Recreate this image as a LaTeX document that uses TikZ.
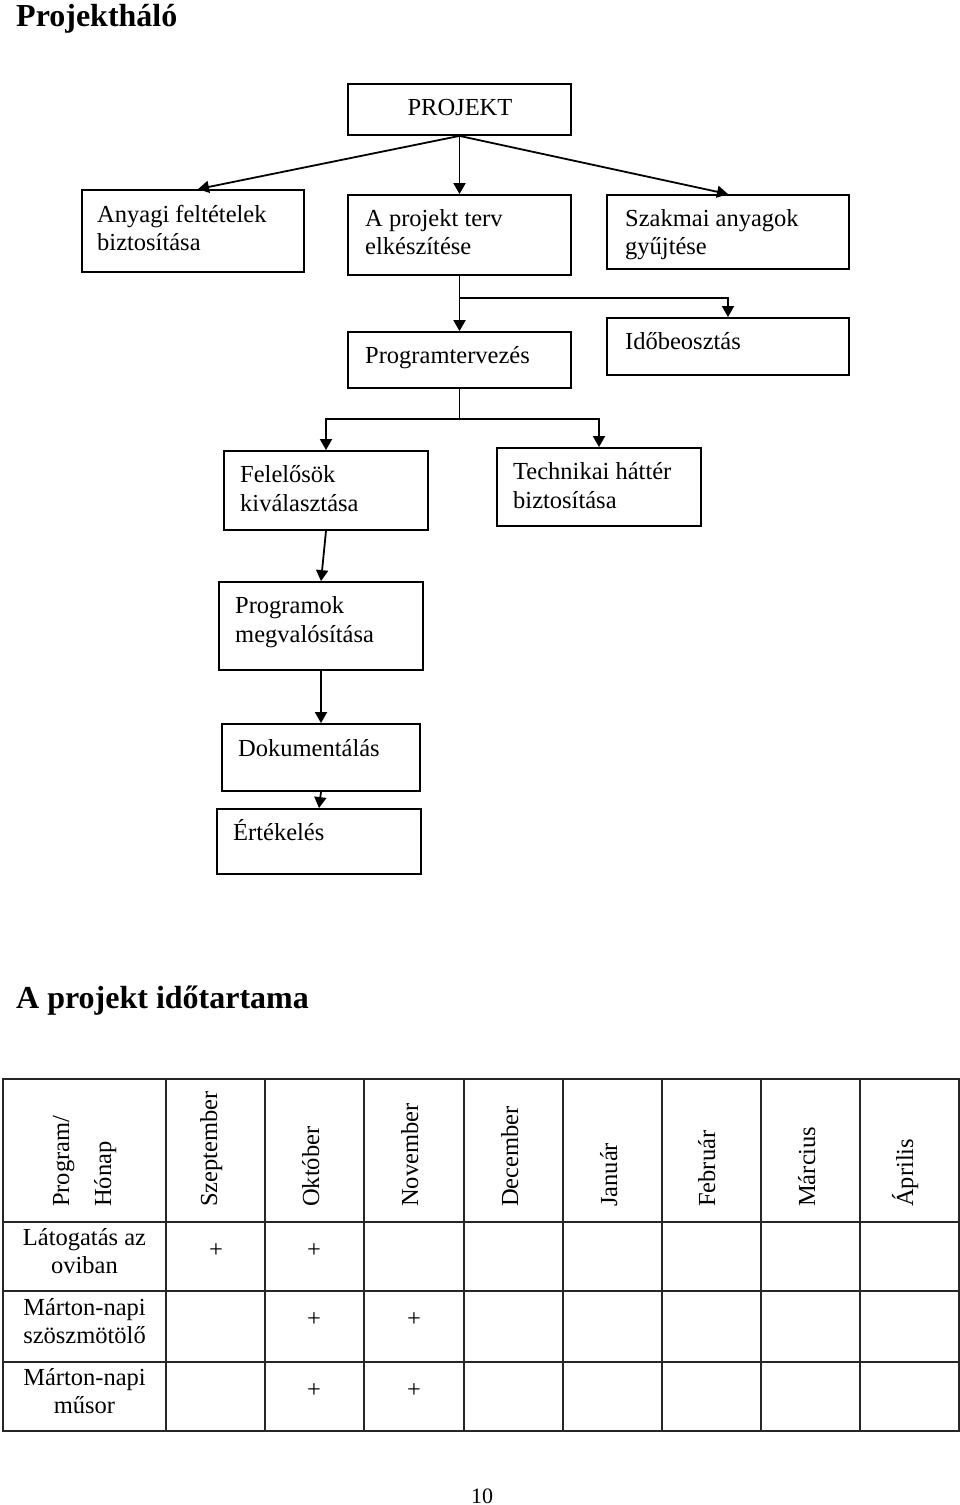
\documentclass[tikz,border=0pt]{standalone}
\usepackage{fontspec}
\setmainfont{Liberation Serif}
\usetikzlibrary{arrows.meta}
\begin{document}
\begin{tikzpicture}[x=1pt,y=-1pt,
  box/.style={draw, line width=1.8pt, inner sep=0pt},
  txt/.style={inner sep=0pt, anchor=base west, font=\fontsize{24.5}{28}\selectfont},
  ctxt/.style={inner sep=0pt, anchor=base, font=\fontsize{24.5}{28}\selectfont},
  arr/.style={line width=1.8pt, -{Triangle[length=11pt,width=12pt]}},
  ln/.style={line width=1.8pt},
  tab/.style={line width=1.4pt, draw=black!85},
  head/.style={inner sep=0pt, anchor=base west, rotate=90, font=\fontsize{24.5}{28}\selectfont},
  title/.style={inner sep=0pt, anchor=base west, font=\fontsize{32}{36}\selectfont\bfseries}]
\useasboundingbox (0,0) rectangle (960,1505);

% titles
\node[title] (t1) at (16,26) {Projektháló};
\node[title] (t2) at (16,1008) {A projekt időtartama};

% boxes
\node[box, minimum width=223pt, minimum height=51pt] (proj) at (459.5,109.5) {};
\node[box, minimum width=222pt, minimum height=82pt] (anyagi) at (193,231) {};
\node[box, minimum width=223pt, minimum height=80pt] (terv) at (459.5,235) {};
\node[box, minimum width=242pt, minimum height=74pt] (szak) at (728,232) {};
\node[box, minimum width=223pt, minimum height=56pt] (prog) at (459.5,360) {};
\node[box, minimum width=242pt, minimum height=57pt] (idob) at (728,346.5) {};
\node[box, minimum width=204pt, minimum height=79pt] (felel) at (326,490.5) {};
\node[box, minimum width=204pt, minimum height=78pt] (tech) at (599,487) {};
\node[box, minimum width=204pt, minimum height=88pt] (progr) at (321,626) {};
\node[box, minimum width=198pt, minimum height=67pt] (dok) at (321,757.5) {};
\node[box, minimum width=204pt, minimum height=65pt] (ert) at (319,841.5) {};

% box texts
\node[ctxt] (projt) at (460,115) {PROJEKT};
\node[txt] (anyagi1) at (97,222) {Anyagi feltételek};
\node[txt] (anyagi2) at (97,250) {biztosítása};
\node[txt] (terv1) at (365,226) {A projekt terv};
\node[txt] (terv2) at (365,254) {elkészítése};
\node[txt] (szak1) at (625,226) {Szakmai anyagok};
\node[txt] (szak2) at (625,254) {gyűjtése};
\node[txt] (progt) at (365,363) {Programtervezés};
\node[txt] (idobt) at (625,349) {Időbeosztás};
\node[txt] (felel1) at (240,482) {Felelősök};
\node[txt] (felel2) at (240,511) {kiválasztása};
\node[txt] (tech1) at (513,479) {Technikai háttér};
\node[txt] (tech2) at (513,508) {biztosítása};
\node[txt] (progr1) at (235,613) {Programok};
\node[txt] (progr2) at (235,642) {megvalósítása};
\node[txt] (dokt) at (238,756) {Dokumentálás};
\node[txt] (ertt) at (233,840) {Értékelés};

% connectors
\draw[arr] (proj.south) -- ([xshift=5pt]anyagi.north);
\draw[arr] (proj.south) -- (terv.north);
\draw[arr] (proj.south) -- (szak.north);
\coordinate (j1) at (459.5,298);
\draw[arr] (terv.south) -- (prog.north);
\draw[arr] (j1) -| (idob.north);
\coordinate (j2) at (459.5,419);
\draw[ln] (prog.south) -- (j2);
\draw[arr] (j2) -| (felel.north);
\draw[arr] (j2) -| (tech.north);
\draw[arr] (felel.south) -- (progr.north);
\draw[arr] (progr.south) -- (dok.north);
\draw[arr] (dok.south) -- (ert.north);

% table grid
\draw[tab] (3,1079) rectangle (959,1431);
\foreach \x in {166,265,364,464,563,662,761,860} \draw[tab] (\x,1079) -- (\x,1431);
\foreach \y in {1222,1291,1362} \draw[tab] (3,\y) -- (959,\y);

% header
\node[head] (hprog) at (69,1207) {Program/};
\node[head] (hhon) at (111,1207) {Hónap};
\node[head] (hsep) at (217,1207) {Szeptember};
\node[head] (hokt) at (319,1207) {Október};
\node[head] (hnov) at (418,1207) {November};
\node[head] (hdec) at (518,1207) {December};
\node[head] (hjan) at (617,1207) {Január};
\node[head] (hfeb) at (715,1207) {Február};
\node[head] (hmar) at (815,1207) {Március};
\node[head] (hapr) at (913,1207) {Április};

% row labels
\node[ctxt] (r1a) at (84.5,1245) {Látogatás az};
\node[ctxt] (r1b) at (84.5,1273) {oviban};
\node[ctxt] (r2a) at (84.5,1315) {Márton-napi};
\node[ctxt] (r2b) at (84.5,1343) {szöszmötölő};
\node[ctxt] (r3a) at (84.5,1385) {Márton-napi};
\node[ctxt] (r3b) at (84.5,1413) {műsor};

% marks
\node[inner sep=0pt, font=\fontsize{24.5}{28}\selectfont] (p11) at (216,1251) {+};
\node[inner sep=0pt, font=\fontsize{24.5}{28}\selectfont] (p12) at (314,1251) {+};
\node[inner sep=0pt, font=\fontsize{24.5}{28}\selectfont] (p22) at (314,1320) {+};
\node[inner sep=0pt, font=\fontsize{24.5}{28}\selectfont] (p23) at (414,1320) {+};
\node[inner sep=0pt, font=\fontsize{24.5}{28}\selectfont] (p32) at (314,1391) {+};
\node[inner sep=0pt, font=\fontsize{24.5}{28}\selectfont] (p33) at (414,1391) {+};

% page number
\node[inner sep=0pt, anchor=base, font=\fontsize{22}{26}\selectfont] (pn) at (482,1503) {10};
\end{tikzpicture}
\end{document}
